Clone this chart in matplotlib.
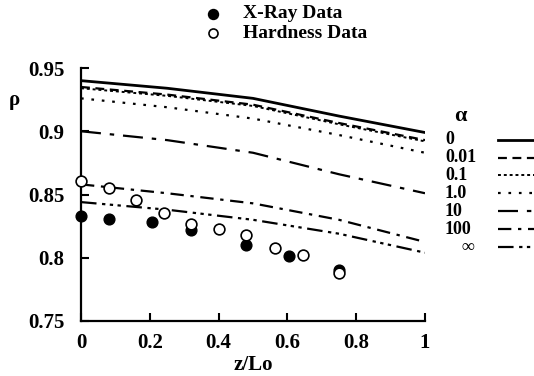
import numpy as np
import matplotlib
matplotlib.use('Agg')
import matplotlib.pyplot as plt
from matplotlib.lines import Line2D

plt.rcParams['font.family'] = ['Liberation Serif', 'DejaVu Serif']
plt.rcParams['font.weight'] = 'bold'

# model curves rho(z/Lo) for each alpha
z_curve = [0.0, 0.25, 0.5, 0.75, 1.0]
rho_0 = [0.940, 0.934, 0.926, 0.912, 0.899]
rho_001 = [0.935, 0.929, 0.921, 0.9065, 0.893]
rho_01 = [0.934, 0.928, 0.920, 0.9055, 0.892]
rho_1 = [0.926, 0.919, 0.910, 0.897, 0.883]
rho_10 = [0.900, 0.893, 0.883, 0.866, 0.851]
rho_100 = [0.858, 0.851, 0.843, 0.830, 0.8125]
rho_inf = [0.844, 0.838, 0.830, 0.819, 0.804]
alpha_labels = ['0', '0.01', '0.1', '1.0', '10', '100', '\u221e']

# measurements
z_xray = [0.0, 0.08, 0.205, 0.32, 0.48, 0.605, 0.75]
rho_xray = [0.833, 0.831, 0.828, 0.822, 0.810, 0.801, 0.790]
z_hard = [0.0, 0.08, 0.16, 0.24, 0.32, 0.40, 0.48, 0.565, 0.645, 0.75]
rho_hard = [0.861, 0.855, 0.846, 0.835, 0.827, 0.823, 0.818, 0.808, 0.802, 0.788]

styles = [
    dict(ls='-', lw=2.0),
    dict(ls=(0, (4, 2.5)), lw=1.6),
    dict(ls=(0, (1.5, 1.5)), lw=1.4),
    dict(ls=(0, (1.2, 3.5)), lw=1.6),
    dict(ls=(0, (9, 4, 2, 4)), lw=1.6),
    dict(ls=(0, (6, 3, 1.5, 3)), lw=1.6),
    dict(ls=(0, (7, 2.5, 1.5, 2, 1.5, 2, 1.5, 2.5)), lw=1.6),
]
curves = [rho_0, rho_001, rho_01, rho_1, rho_10, rho_100, rho_inf]

W, H = 534, 376
fig = plt.figure(figsize=(W / 100, H / 100), dpi=100)
ax = fig.add_axes([81 / W, 1 - 321 / H, 344 / W, 253 / H])

def px(x, y):
    return x / W, 1 - y / H

for rho, st in zip(curves, styles):
    ax.plot(z_curve, rho, color='black', **st)

ax.scatter(z_xray, rho_xray, s=60, color='black', zorder=3, clip_on=False)
ax.scatter(z_hard, rho_hard, s=60, facecolor='white', edgecolor='black',
           linewidth=1.2, zorder=3, clip_on=False)

ax.set_xlim(0, 1)
ax.set_ylim(0.75, 0.95)
ax.set_xticks([0, 0.2, 0.4, 0.6, 0.8, 1])
ax.set_xticklabels(['0', '0.2', '0.4', '0.6', '0.8', '1'])
ax.set_yticks([0.75, 0.8, 0.85, 0.9, 0.95])
ax.set_yticklabels(['0.75', '0.8', '0.85', '0.9', '0.95'])
ax.tick_params(direction='in', length=6, width=1.5, labelsize=15)
ax.tick_params(axis='y', pad=12)
ax.tick_params(axis='x', pad=9)
for s in ['top', 'right']:
    ax.spines[s].set_visible(False)
for s in ['left', 'bottom']:
    ax.spines[s].set_linewidth(1.6)

ax.set_xlabel('z/Lo', fontsize=15, fontweight='bold', labelpad=1)
fig.text(*px(9, 100), '\u03c1', fontsize=15, ha='left', va='center')

# alpha key on the right
fig.text(*px(460, 116), '\u03b1', fontsize=16, ha='center', va='center')
label_y = [140, 158, 175, 193, 211, 229, 247]
for lab, st, y in zip(alpha_labels, styles, label_y):
    if lab == '\u221e':
        fig.text(*px(468, y), lab, fontsize=13, ha='center', va='center')
    else:
        fig.text(*px(445, y), lab, fontsize=13, ha='left', va='center')
    x0, y0 = px(498, y)
    x1, _ = px(540, y)
    fig.add_artist(Line2D([x0, x1], [y0, y0], color='black',
                          transform=fig.transFigure, **st))

# marker key at the top
for y, lab, filled in [(14, 'X-Ray Data', True), (33, 'Hardness Data', False)]:
    mx, my = px(213, y)
    fig.add_artist(Line2D([mx], [my], ls='', marker='o', ms=7 if filled else 6.5,
                          mfc='black' if filled else 'white', mec='black', mew=1.2,
                          transform=fig.transFigure))
    fig.text(*px(243, y), lab, fontsize=14, ha='left', va='center')

fig.savefig('out.png', dpi=100)
